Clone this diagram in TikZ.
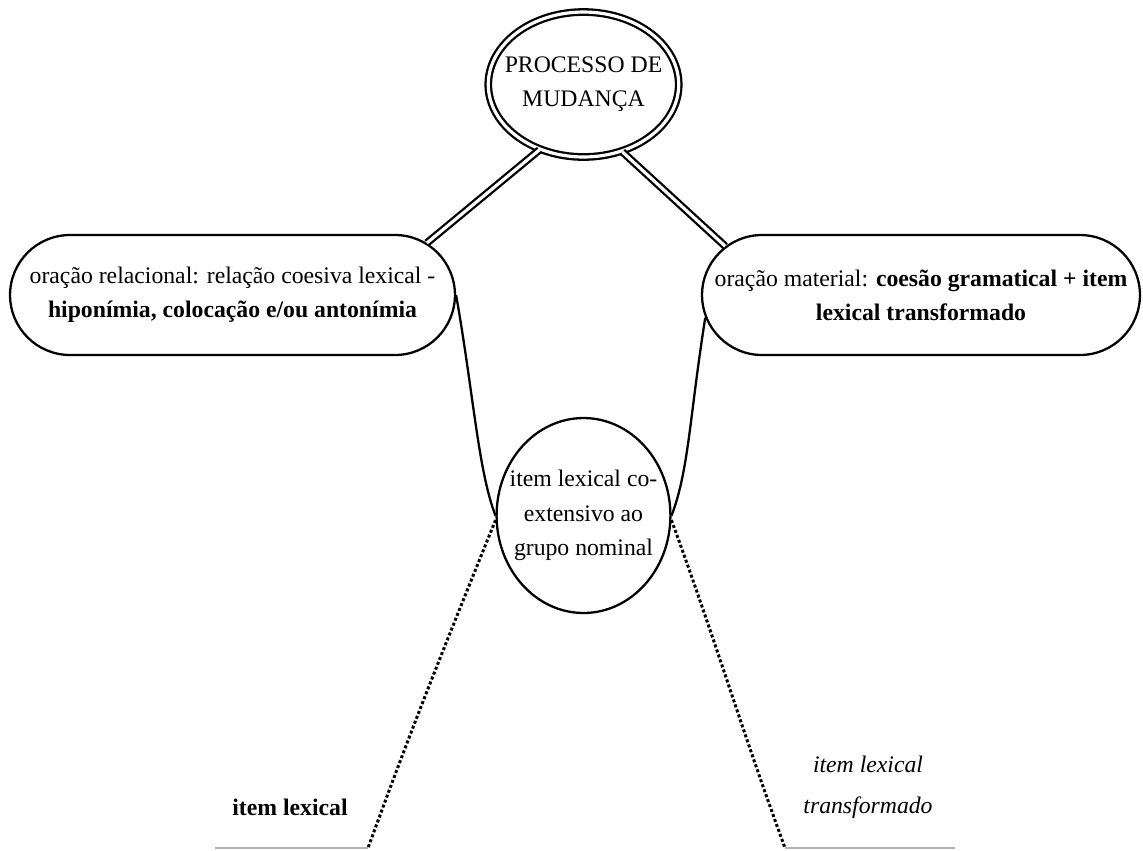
\documentclass[tikz,border=0pt]{standalone}
\usepackage{fontspec}
\setmainfont{Liberation Serif}
\usetikzlibrary{shapes.geometric,shapes.misc}

\begin{document}
\begin{tikzpicture}[x=0.02cm,y=0.02cm,
        every node/.style={font=\fontsize{13.5}{19.5}\selectfont, align=center, inner sep=0pt},
        bubble/.style={draw, line width=1.3pt, rounded rectangle, minimum height=2.4cm},
        link/.style={double, line width=1.3pt, double distance=1.8pt},
        curveline/.style={line width=1.3pt},
        dots/.style={line width=1.7pt, dash pattern=on 1.7pt off 1.3pt},
        rule/.style={gray!60, line width=0.6pt}]
        \useasboundingbox (0,0) rectangle (1143,-850);
        %% top
        \node[draw, ellipse, link, inner xsep=-6.5pt, minimum width=3.78cm, minimum height=2.9cm] (proc) at (583.5,-84.5) {PROCESSO DE\\MUDAN\c{C}A};
        %% the two clauses
        \node[bubble, minimum width=8.9cm] (rel) at (232.5,-295)
            {ora\c{c}\~ao relacional: rela\c{c}\~ao coesiva lexical -\\\textbf{hipon\'imia, coloca\c{c}\~ao e/ou anton\'imia}};
        \node[bubble, minimum width=8.76cm] (mat) at (921,-295)
            {ora\c{c}\~ao material: \textbf{coes\~ao gramatical + item}\\\textbf{lexical transformado}};
        \draw[link] (proc.236) -- (rel.15);
        \draw[link] (proc.300) -- (mat.166);
        %% nominal group
        \node[draw, ellipse, line width=1.3pt, inner xsep=-7pt, minimum width=3.46cm, minimum height=3.9cm] (mid) at (583.5,-515.5)
            {item lexical co-\\extensivo ao\\grupo nominal};
        \draw[curveline] (rel.east) to[out=-80, in=111, out distance=2cm, in distance=0.96cm] (mid.west);
        \draw[curveline] (mat.186) to[out=-99, in=69, out distance=2cm, in distance=0.96cm] (mid.east);
        %% bottom labels
        \node (lex) at (290,-807) {\textbf{item lexical}};
        \node (trans) at (868,-787.5) {\itshape item lexical\\[4pt]\itshape transformado};
        \coordinate (lexend) at (368,-848);
        \coordinate (transend) at (785,-848);
        \draw[rule] (215,-848) -- (lexend);
        \draw[rule] (transend) -- (955,-848);
        \draw[dots] (mid.183) to[out=-112, in=70] (lexend);
        \draw[dots] (mid.357) to[out=-70, in=110] (transend);
    \end{tikzpicture}
\end{document}
